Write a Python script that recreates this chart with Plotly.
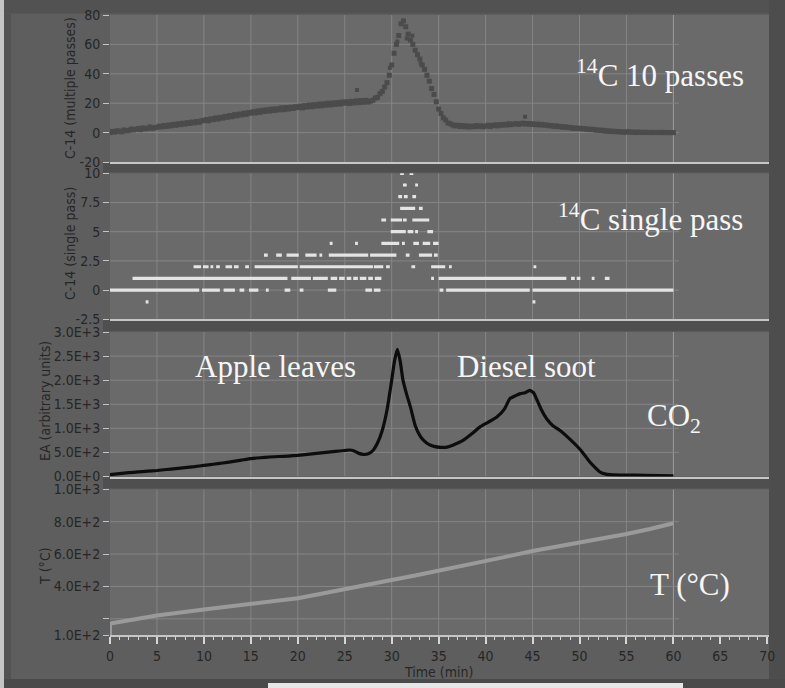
import plotly.graph_objects as go

W, H = 785, 688

# ---------------- data ----------------
time_ticks = [0, 5, 10, 15, 20, 25, 30, 35, 40, 45, 50, 55, 60, 65, 70]
grid_time = [5, 10, 15, 20, 25, 30, 35, 40, 45, 50, 55, 60]

# Panel 1: C-14 (multiple passes), sampled every 0.25 min from 0 to 60
mp_time = [i * 0.25 for i in range(241)]
mp_values = [
    0, 0.8, 0.3, 1.2, 1.0, 0.5, 1.8, 1.2, 1.5, 2.4, 1.8, 2.2, 2.8, 2.0, 3.2, 2.6, 3.0, 3.8, 2.9, 3.4,
    3.6, 4.4, 3.8, 4.8, 4.2, 5.2, 4.5, 5.6, 4.9, 6.0, 5.4, 6.4, 5.8, 6.8, 6.2, 7.2, 6.6, 7.6, 7.0, 8.0,
    8.2, 8.8, 8.0, 9.4, 8.8, 10.0, 9.2, 10.4, 9.8, 11.0, 10.4, 11.6, 10.8, 12.2, 11.4, 12.6, 12.0, 13.2, 12.4, 13.6,
    13.2, 14.2, 13.4, 14.8, 13.8, 15.2, 14.4, 15.6, 14.6, 16.0, 15.0, 16.2, 15.4, 16.8, 15.6, 17.0, 16.0, 17.2, 16.4, 17.6,
    17.0, 18.0, 16.8, 18.4, 17.4, 18.8, 17.6, 19.0, 18.0, 19.4, 18.2, 19.6, 18.6, 20.0, 18.8, 20.2, 19.2, 20.4, 19.4, 20.8,
    20.0, 21.0, 19.8, 21.2, 20.2, 21.6, 20.4, 21.8, 20.6, 22.0, 20.8, 21.4, 22.0, 23.5, 24.0, 26.5, 28.0, 31.0, 34.0, 39.0,
    46, 54, 60, 66, 74, 76, 72, 67, 63, 60, 56, 53, 50, 46, 43, 39, 35, 30, 26, 21,
    16, 13, 10, 8.5, 6.5, 6.0, 5.2, 4.6, 5.0, 4.2, 4.8, 4.0, 4.6, 3.8, 4.4, 4.0, 4.8, 4.2, 4.6, 4.0,
    4.4, 5.0, 4.2, 4.8, 5.2, 4.6, 5.4, 5.0, 5.6, 5.2, 6.0, 5.4, 5.8, 6.2, 5.6, 6.0, 6.4, 5.8, 6.2, 5.6,
    6.0, 5.4, 5.8, 5.2, 5.6, 5.0, 5.2, 4.6, 4.8, 4.2, 4.6, 4.0, 4.2, 3.6, 4.0, 3.4, 3.6, 3.0, 3.2, 2.8,
    3.0, 2.6, 2.8, 2.2, 2.4, 2.0, 2.2, 1.6, 1.8, 1.4, 1.6, 1.0, 1.2, 0.8, 1.0, 0.6, 0.8, 0.4, 0.6, 0.2,
    0.4, 0.6, 0.2, 0.4, 0.0, 0.4, 0.2, 0.0, 0.3, 0.1, 0.0, 0.2, 0.0, 0.1, 0.0, 0.2, 0.0, 0.1, 0.0, 0.0,
    0.0,
]
mp_outlier_time = [26.3, 44.2, 29.8, 31.6, 30.6, 32.2, 33.1]
mp_outlier_values = [29, 10.8, 44, 64, 62, 66, 47]

# Panel 2: C-14 (single pass) - runs of counts (start min, end min) per count level
sp_level_m1 = [(3.8, 4.1), (45.0, 45.3)]
sp_level_0 = [(0, 9.5), (9.8, 11.7), (12.1, 13.3), (13.8, 14.3), (14.8, 15.8), (16.6, 16.9),
              (18.6, 19.2), (20.2, 20.6), (23.2, 24.1), (27.2, 27.9), (28.1, 28.8),
              (35.1, 35.5), (35.8, 44.7), (45.0, 60.0)]
sp_level_1 = [(2.4, 18.9), (19.3, 21.4), (21.6, 23.2), (23.5, 24.2), (24.4, 25.0), (25.2, 25.7),
              (25.9, 26.4), (26.6, 27.3), (27.5, 28.0), (28.2, 28.9), (34.2, 34.5), (35.0, 48.6),
              (49.1, 49.5), (49.7, 50.1), (51.3, 51.6), (52.7, 53.2)]
sp_level_2 = [(8.9, 9.7), (9.9, 10.5), (10.7, 11.0), (11.3, 11.7), (12.3, 13.0), (13.2, 13.7),
              (14.4, 14.8), (15.4, 20.0), (20.2, 28.0), (28.1, 29.1), (29.4, 29.8), (32.1, 32.5),
              (34.2, 35.7), (36.1, 36.4), (45.1, 45.4)]
sp_level_3 = [(16.4, 16.8), (17.7, 18.3), (18.8, 20.1), (20.8, 22.0), (22.3, 22.6), (23.3, 27.5),
              (27.7, 30.5), (31.5, 31.9), (32.9, 34.3), (34.5, 34.9)]
sp_level_4 = [(23.4, 23.7), (26.1, 26.4), (28.9, 30.8), (31.1, 31.4), (32.3, 32.9), (33.3, 34.1),
              (34.4, 35.0)]
sp_level_5 = [(29.9, 31.5), (31.7, 32.3), (32.5, 32.8), (33.8, 34.4)]
sp_level_6 = [(28.9, 29.4), (29.9, 31.1), (31.2, 31.6), (32.2, 34.0)]
sp_level_7 = [(30.9, 32.5), (32.9, 33.3)]
sp_level_8 = [(30.7, 31.1), (31.3, 31.7), (32.2, 32.6)]
sp_level_9 = [(31.2, 31.6), (32.5, 32.8)]
sp_level_10 = [(30.9, 31.3), (31.9, 32.3)]
sp_levels = [-1, 0, 1, 2, 3, 4, 5, 6, 7, 8, 9, 10]
sp_runs = [sp_level_m1, sp_level_0, sp_level_1, sp_level_2, sp_level_3, sp_level_4,
           sp_level_5, sp_level_6, sp_level_7, sp_level_8, sp_level_9, sp_level_10]

# Panel 3: EA (arbitrary units)
ea_time = [0, 1, 2, 3, 4, 5, 6, 7, 8, 9, 10, 11, 12, 13, 14, 15, 16, 17, 18, 19, 20, 21, 22, 23, 24,
           25, 25.5, 26, 26.5, 27, 27.5, 28, 28.5, 29, 29.5, 30, 30.3, 30.6, 30.9, 31.2, 31.6, 32,
           32.5, 33, 33.4, 34, 34.5, 35.2, 35.9, 36.5, 37.6, 38.5, 39.4, 40.3, 41.2, 42, 42.6, 43.2,
           43.7, 44.2, 44.7, 45.1, 45.4, 45.9, 46.5, 47.2, 47.9, 49, 50, 50.6, 51.1, 51.7, 52.2, 52.8,
           53.6, 55, 57, 60]
ea_values = [40, 60, 80, 95, 110, 125, 145, 165, 185, 205, 230, 255, 280, 310, 340, 370, 390, 405, 415,
             425, 440, 460, 480, 500, 520, 540, 550, 530, 480, 460, 470, 540, 700, 960, 1380, 2000, 2400,
             2640, 2400, 2000, 1700, 1440, 1060, 850, 750, 660, 625, 605, 610, 650, 750, 880, 1030, 1130,
             1235, 1400, 1620, 1680, 1720, 1740, 1790, 1740, 1620, 1400, 1200, 1050, 960, 770, 575, 430,
             300, 180, 90, 50, 35, 30, 25, 15]

# Panel 4: temperature
temp_time = [0, 0, 0.2, 5, 10, 15, 17.5, 20, 22.5, 25, 27.5, 30, 32.5, 35, 37.5, 40, 42.5, 45, 47.5,
             50, 52.5, 55, 57.5, 60]
temp_values = [100, 170, 172, 220, 258, 293, 305, 327, 355, 385, 412, 440, 468, 497, 525, 553, 587,
               619, 645, 670, 697, 724, 755, 790]

# axis ticks
p1_ticks = [-20, 0, 20, 40, 60, 80]
p1_labels = ["-20", "0", "20", "40", "60", "80"]
p2_ticks = [-2.5, 0, 2.5, 5, 7.5, 10]
p2_labels = ["-2.5", "0", "2.5", "5", "7.5", "10"]
p3_ticks = [0, 500, 1000, 1500, 2000, 2500, 3000]
p3_labels = ["0.0E+0", "5.0E+2", "1.0E+3", "1.5E+3", "2.0E+3", "2.5E+3", "3.0E+3"]
p4_ticks = [100, 200, 400, 600, 800, 1000]
p4_labels = ["1.0E+2", "", "4.0E+2", "6.0E+2", "8.0E+2", "1.0E+3"]

# ---------------- styling ----------------
PAPER = "#5e5e5e"
PLOT_BG = "#6a6a6a"
FRAME = "#4f4f4f"
GRID = "#858585"
LABEL_C = "#262626"
TICK_C = "#c4c4c4"
SANS = "Liberation Sans Narrow, DejaVu Sans Condensed, DejaVu Sans, sans-serif"
SERIF = "Liberation Serif, Times New Roman, serif"


def px(x):
    return x / W


def py(y):
    return 1 - y / H


panels = [  # (top px, bottom px, y range, ticks, labels)
    (15, 162, [-20, 80], p1_ticks, p1_labels),
    (173.3, 319.3, [-2.5, 10], p2_ticks, p2_labels),
    (332, 476.5, [0, 3000], p3_ticks, p3_labels),
    (489.3, 635, [100, 1000], p4_ticks, p4_labels),
]
X_RANGE = [0, 70 * (769 - 110) / (767.3 - 110)]

fig = go.Figure()

# panel 1 scatter
fig.add_trace(go.Scatter(x=mp_time, y=mp_values, mode="markers", xaxis="x", yaxis="y",
                         marker=dict(symbol="square", size=5, color="#4b4b4b", line=dict(width=0))))
fig.add_trace(go.Scatter(x=mp_outlier_time, y=mp_outlier_values, mode="markers", xaxis="x", yaxis="y",
                         marker=dict(symbol="square", size=4, color="#4b4b4b", line=dict(width=0))))

# panel 2 runs
sx, sy = [], []
for lvl, runs in zip(sp_levels, sp_runs):
    for a, b in runs:
        sx += [a, b, None]
        sy += [lvl, lvl, None]
fig.add_trace(go.Scatter(x=sx, y=sy, mode="lines", xaxis="x2", yaxis="y2",
                         line=dict(color="#e4e4e4", width=3.2)))

# panel 3
fig.add_trace(go.Scatter(x=ea_time, y=ea_values, mode="lines", xaxis="x3", yaxis="y3",
                         line=dict(color="#0d0d0d", width=3.2, shape="spline", smoothing=0.4)))

# panel 4
fig.add_trace(go.Scatter(x=temp_time, y=temp_values, mode="lines", xaxis="x4", yaxis="y4",
                         line=dict(color="#9a9a9a", width=4)))

layout = dict(
    width=W, height=H, margin=dict(l=0, r=0, t=0, b=0, autoexpand=False),
    paper_bgcolor=PAPER, plot_bgcolor=PLOT_BG, showlegend=False,
    font=dict(family=SANS, size=12, color=LABEL_C),
)

shapes = []
for i, (top, bot, yr, tv, tt) in enumerate(panels, start=1):
    sfx = "" if i == 1 else str(i)
    is_bottom = i == 4
    layout["xaxis" + sfx] = dict(
        domain=[px(110), px(769)], range=X_RANGE, anchor="y" + sfx, automargin=False,
        showgrid=False, zeroline=False, showline=True, linecolor="#c6c6c6", linewidth=2,
        showticklabels=is_bottom, ticks="outside" if is_bottom else "",
        tick0=0, dtick=5, tickmode="array" if is_bottom else "linear",
        tickvals=time_ticks if is_bottom else None,
        ticktext=[str(t) for t in time_ticks] if is_bottom else None,
        ticklen=7, tickwidth=2, tickcolor="#d6d6d6",
        tickfont=dict(family=SANS, size=14, color=LABEL_C),
        fixedrange=True,
    )
    if is_bottom:
        layout["xaxis" + sfx]["minor"] = dict(tickvals=[t for t in range(0, 71) if t % 5],
                                              ticks="outside", ticklen=3, tickcolor="#d6d6d6",
                                              tickwidth=1, showgrid=False)
    layout["yaxis" + sfx] = dict(
        domain=[py(bot), py(top)], range=yr, anchor="x" + sfx, automargin=False,
        showgrid=False, zeroline=False, showline=False,
        tickmode="array", tickvals=tv, ticktext=tt,
        ticks="outside", ticklen=6, tickwidth=1, tickcolor=TICK_C,
        tickfont=dict(family=SANS, size=14, color=LABEL_C),
        fixedrange=True,
    )
    # grid lines restricted to 0..60 min, like the original graph
    xr, yr_ = "x" + sfx, "y" + sfx
    for g in grid_time:
        shapes.append(dict(type="line", xref=xr, yref=yr_, x0=g, x1=g, y0=yr[0], y1=yr[1],
                           line=dict(color="#9c9c9c" if g == 60 else GRID, width=1), layer="below"))
    for v in tv[1:-1]:
        shapes.append(dict(type="line", xref=xr, yref=yr_, x0=0, x1=60.6, y0=v, y1=v,
                           line=dict(color=GRID, width=1), layer="below"))


# frame decorations
def rect(x0, y0, x1, y1, color):
    return dict(type="rect", xref="paper", yref="paper", x0=px(x0), x1=px(x1),
                y0=py(y1), y1=py(y0), fillcolor=color, line=dict(width=0), layer="below")


shapes += [
    rect(0, 0, 785, 13.5, "#525252"),
    rect(103, 163, 785, 172.5, FRAME),
    rect(103, 320.3, 785, 331.3, FRAME),
    rect(103, 477.5, 785, 488.6, FRAME),
    rect(769, 0, 785, 688, "#4d4d4d"),
    rect(0, 679, 785, 688, "#4a4a4a"),
    rect(268, 683, 683, 688, "#e6e6e6"),
    rect(0, 0, 4, 688, "#c4c4c4"),
    rect(4, 13.5, 11, 679, "#525252"),
]
layout["shapes"] = shapes

annotations = []


def label(text, x, y, size=31, angle=0, family=SERIF, color="#f6f6f6", xanchor="left"):
    annotations.append(dict(text=text, x=px(x), y=py(y), xref="paper", yref="paper",
                            xanchor=xanchor, yanchor="middle", showarrow=False, textangle=angle,
                            font=dict(family=family, size=size, color=color)))


label("<sup>14</sup>C 10 passes", 574, 74)
label("<sup>14</sup>C single pass", 556, 217)
label("Apple leaves", 193, 367)
label("Diesel soot", 455, 367)
label("CO<sub>2</sub>", 645, 418)
label("T (°C)", 648, 584)

# axis titles
label("C-14 (multiple passes)", 70, 88, size=14, angle=-90, family=SANS, color=LABEL_C, xanchor="center")
label("C-14 (single pass)", 70, 244, size=14, angle=-90, family=SANS, color=LABEL_C, xanchor="center")
label("EA (arbitrary units)", 45, 401, size=14, angle=-90, family=SANS, color=LABEL_C, xanchor="center")
label("T (°C)", 45, 566, size=14, angle=-90, family=SANS, color=LABEL_C, xanchor="center")
label("Time (min)", 438, 672, size=14, family=SANS, color=LABEL_C, xanchor="center")

layout["annotations"] = annotations
fig.update_layout(**layout)
fig.write_html("out.html")
